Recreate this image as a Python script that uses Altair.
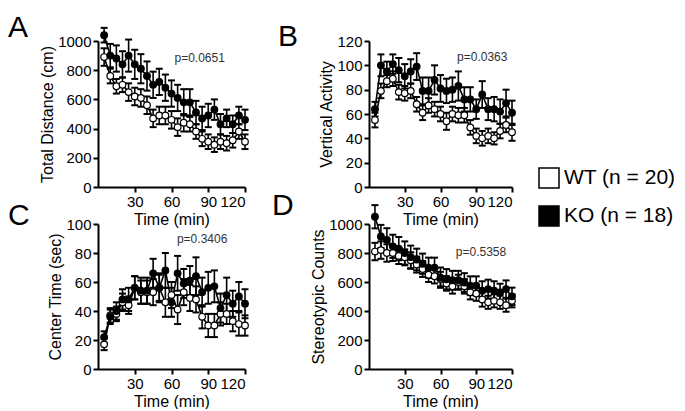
import altair as alt
import pandas as pd

time = list(range(5, 125, 5))
groups = ["WT (n = 20)", "KO (n = 18)"]

# Panel A: Total Distance (cm)
a_ko = [1040, 900, 880, 840, 900, 840, 810, 760, 700, 720, 680, 640, 610, 580, 580, 510, 470, 490, 530, 430, 470, 430, 490, 460]
a_ko_err = [50, 80, 90, 90, 110, 100, 100, 100, 90, 90, 90, 90, 90, 90, 90, 80, 80, 80, 70, 70, 60, 60, 60, 70]
a_wt = [890, 760, 690, 700, 650, 620, 610, 560, 470, 490, 490, 460, 410, 440, 430, 380, 330, 310, 290, 310, 300, 320, 380, 310]
a_wt_err = [60, 50, 50, 50, 60, 60, 60, 60, 60, 60, 60, 60, 60, 60, 50, 50, 50, 50, 50, 50, 50, 50, 50, 50]

# Panel B: Vertical Activity
b_ko = [64, 100, 95, 101, 96, 91, 95, 99, 79, 79, 88, 81, 79, 80, 83, 72, 72, 64, 76, 64, 64, 62, 69, 61]
b_ko_err = [6, 9, 8, 8, 10, 10, 10, 11, 11, 11, 12, 11, 10, 10, 12, 10, 10, 8, 11, 9, 10, 10, 11, 10]
b_wt = [55, 79, 87, 89, 78, 77, 79, 68, 61, 67, 64, 60, 54, 60, 59, 59, 49, 42, 40, 42, 40, 46, 51, 45]
b_wt_err = [6, 6, 5, 6, 6, 6, 6, 6, 6, 6, 6, 6, 7, 6, 6, 6, 6, 6, 6, 6, 5, 6, 6, 7]

# Panel C: Center Time (sec)
c_ko = [22, 36, 40, 48, 48, 56, 54, 54, 66, 56, 68, 46, 66, 59, 61, 64, 53, 56, 57, 42, 51, 45, 50, 45]
c_ko_err = [4, 5, 6, 7, 8, 8, 9, 9, 10, 10, 12, 10, 12, 10, 10, 13, 10, 11, 11, 10, 12, 9, 10, 10]
c_wt = [17, 37, 38, 46, 44, 56, 53, 53, 53, 56, 46, 51, 41, 53, 49, 48, 36, 30, 30, 38, 38, 33, 31, 30]
c_wt_err = [4, 5, 5, 6, 6, 8, 8, 8, 9, 9, 10, 9, 10, 9, 9, 9, 8, 8, 8, 8, 7, 7, 8, 7]

# Panel D: Stereotypic Counts
d_ko = [1050, 914, 891, 846, 830, 800, 771, 755, 726, 698, 698, 630, 619, 612, 612, 596, 574, 574, 540, 551, 540, 528, 551, 501]
d_ko_err = [80, 80, 80, 80, 80, 80, 80, 75, 70, 70, 70, 70, 70, 65, 65, 65, 65, 65, 65, 65, 65, 60, 60, 60]
d_wt = [810, 820, 800, 800, 780, 770, 750, 720, 690, 650, 640, 620, 590, 570, 600, 570, 530, 520, 480, 460, 470, 460, 440, 470]
d_wt_err = [60, 60, 60, 55, 55, 55, 55, 55, 55, 50, 50, 50, 50, 50, 50, 50, 50, 50, 50, 45, 45, 45, 45, 45]

x_ticks = [30, 60, 90, 120]
p_values = ["p=0.0651", "p=0.0363", "p=0.3406", "p=0.5358"]
p_pos = [(83, 884), (95, 107), (85, 90), (94, 810)]
letters = ["A", "B", "C", "D"]
y_titles = ["Total Distance (cm)", "Vertical Activity", "Center Time (sec)", "Stereotypic Counts"]
y_max = [1000, 120, 100, 1000]
y_ticks = [list(range(0, 1001, 200)), list(range(0, 121, 20)), list(range(0, 101, 20)), list(range(0, 1001, 200))]

FONT = "Liberation Sans"


def frame(mean_wt, err_wt, mean_ko, err_ko):
    rows = []
    for g, m, e in ((groups[0], mean_wt, err_wt), (groups[1], mean_ko, err_ko)):
        for t, v, s in zip(time, m, e):
            rows.append({"t": t, "group": g, "mean": v, "lo": v - s, "hi": v + s})
    return pd.DataFrame(rows)


def panel(i, df, width, height, dx, dy):
    xs = alt.X("t:Q", scale=alt.Scale(domain=[0, 120], nice=False),
               axis=alt.Axis(values=x_ticks, title="Time (min)"))
    ys = alt.Scale(domain=[0, y_max[i]], nice=False)
    yax = alt.Axis(values=y_ticks[i], title=y_titles[i], format="d")
    base = alt.Chart(df)
    rule = base.mark_rule(color="black", strokeWidth=1.6).encode(
        x=xs, y=alt.Y("lo:Q", scale=ys, axis=yax), y2="hi:Q")
    cap_hi = base.mark_tick(orient="horizontal", color="black", size=7, thickness=2, opacity=1).encode(
        x=xs, y=alt.Y("hi:Q", scale=ys, axis=yax))
    cap_lo = base.mark_tick(orient="horizontal", color="black", size=7, thickness=2, opacity=1).encode(
        x=xs, y=alt.Y("lo:Q", scale=ys, axis=yax))
    line = base.mark_line(color="black", strokeWidth=1.6).encode(
        x=xs, y=alt.Y("mean:Q", scale=ys, axis=yax), detail="group:N")
    pts = base.mark_point(filled=True, shape="circle", size=44, stroke="black", strokeWidth=1.2, opacity=1).encode(
        x=xs, y=alt.Y("mean:Q", scale=ys, axis=yax),
        fill=alt.Fill("group:N", scale=alt.Scale(domain=groups, range=["white", "black"]),
                      legend=alt.Legend(title=None, orient="none", legendX=440, legendY=126,
                                        symbolType="square", symbolSize=400, symbolStrokeColor="black",
                                        symbolStrokeWidth=1.5, labelFontSize=21, labelFont=FONT,
                                        labelColor="black", rowPadding=12, labelOffset=4)),
        order=alt.Order("group:N", sort="descending"))
    ptxt = alt.Chart(pd.DataFrame({"t": [p_pos[i][0]], "v": [p_pos[i][1]], "txt": [p_values[i]]})).mark_text(
        font=FONT, fontSize=12, color="#333333").encode(
        x=xs, y=alt.Y("v:Q", scale=ys, axis=yax), text="txt:N")
    return alt.layer(rule, cap_hi, cap_lo, line, pts, ptxt).properties(
        width=width, height=height,
        title=alt.TitleParams(letters[i], anchor="start", frame="group", fontSize=30, font=FONT,
                              fontWeight="normal", color="black", dx=dx, dy=dy, offset=0))


pa = panel(0, frame(a_wt, a_wt_err, a_ko, a_ko_err), 147, 146, -90, 16)
pb = panel(1, frame(b_wt, b_wt_err, b_ko, b_ko_err), 143, 146, -91, 18)
pc = panel(2, frame(c_wt, c_wt_err, c_ko, c_ko_err), 147, 145, -90, 14)
pd_ = panel(3, frame(d_wt, d_wt_err, d_ko, d_ko_err), 143, 145, -97, 17)

chart = alt.concat(pa, pb, pc, pd_, columns=2, spacing={"row": 37, "column": 124}, bounds="flush").configure_axis(
    grid=False, domainColor="black", tickColor="black", domainWidth=2, tickWidth=2, tickSize=5,
    labelFont=FONT, labelFontSize=15, labelColor="black", titleFont=FONT, titleFontSize=16,
    titleFontWeight="normal", titleColor="black", titlePadding=2, labelPadding=2
).configure_view(stroke=None).properties(padding={"left": 0, "top": 4, "right": 0, "bottom": 0})

chart.save("out.html", embed_options={"renderer": "svg", "actions": False})
